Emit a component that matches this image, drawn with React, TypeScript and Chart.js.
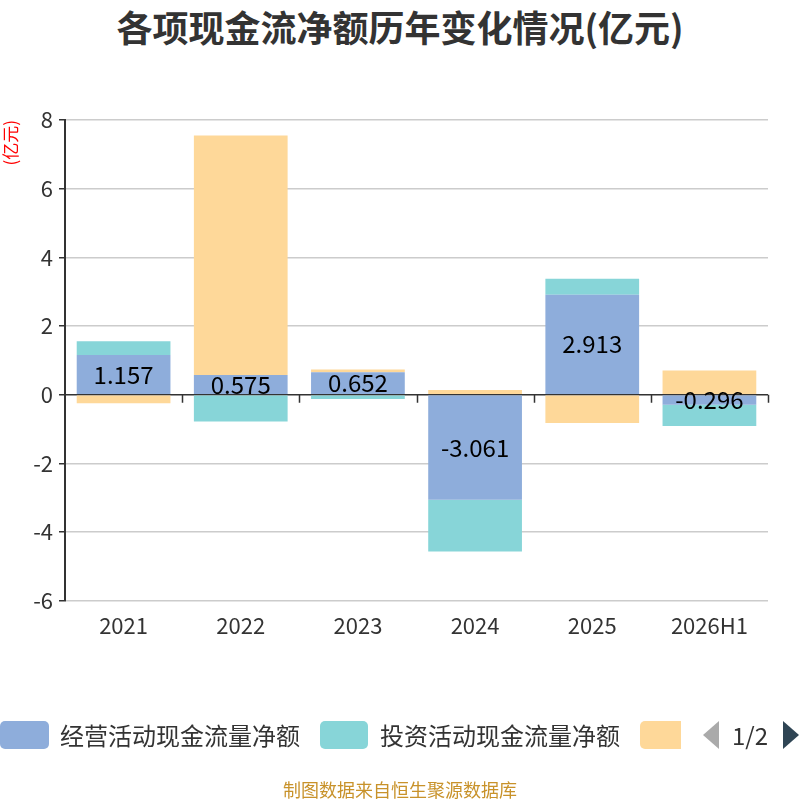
import { useEffect, useRef } from 'react';
import { Chart, registerables, type Plugin } from 'chart.js';

Chart.register(...registerables);

const FONT = "'Noto Sans CJK SC','Noto Sans',sans-serif";

const years = ['2021', '2022', '2023', '2024', '2025', '2026H1'];
const operating = [1.157, 0.575, 0.652, -3.061, 2.913, -0.296];
const investing = [0.4, -0.78, -0.126, -1.51, 0.465, -0.62];
const financing = [-0.25, 6.97, 0.078, 0.137, -0.83, 0.7];
const seriesNames = ['经营活动现金流量净额', '投资活动现金流量净额', '筹资活动现金流量净额'];
const colors = ['#8eaddb', '#87d5d8', '#fed899'];

// zero line + category boundary ticks, drawn under the bars
const zeroAxis: Plugin<'bar'> = {
  id: 'zeroAxis',
  beforeDatasetsDraw(chart) {
    const { ctx, chartArea, scales } = chart;
    const y0 = scales.y.getPixelForValue(0);
    const step = (chartArea.right - chartArea.left) / years.length;
    ctx.save();
    ctx.strokeStyle = '#333';
    ctx.lineWidth = 1.5;
    ctx.beginPath();
    ctx.moveTo(chartArea.left, y0);
    ctx.lineTo(chartArea.right, y0);
    for (let i = 1; i <= years.length; i++) {
      const x = Math.round(chartArea.left + step * i) + 0.5;
      ctx.moveTo(x, y0);
      ctx.lineTo(x, y0 + 8);
    }
    ctx.stroke();
    ctx.restore();
  },
};

const centerLabels: Plugin<'bar'> = {
  id: 'centerLabels',
  afterDatasetsDraw(chart) {
    const { ctx } = chart;
    const meta = chart.getDatasetMeta(0);
    ctx.save();
    ctx.font = `24px ${FONT}`;
    ctx.fillStyle = '#000';
    ctx.textAlign = 'center';
    ctx.textBaseline = 'middle';
    meta.data.forEach((el: any, i) => {
      const { x, y, base } = el.getProps(['x', 'y', 'base'], true);
      ctx.fillText(operating[i].toFixed(3), x, (y + base) / 2);
    });
    ctx.restore();
  },
};

function CashFlowChart() {
  const canvasRef = useRef<HTMLCanvasElement>(null);

  useEffect(() => {
    if (!canvasRef.current) return;
    const chart = new Chart(canvasRef.current, {
      type: 'bar',
      data: {
        labels: years,
        datasets: [operating, investing, financing].map((d, i) => ({
          label: seriesNames[i],
          data: d,
          backgroundColor: colors[i],
          borderWidth: 0,
          barPercentage: 0.8,
          categoryPercentage: 1,
        })),
      },
      options: {
        animation: false,
        responsive: true,
        maintainAspectRatio: false,
        layout: { padding: { left: 0, right: 32, top: 120, bottom: 149 } },
        plugins: {
          legend: { display: false },
          tooltip: { enabled: false },
        },
        scales: {
          x: {
            stacked: true,
            grid: { display: false, drawTicks: false },
            border: { display: false },
            ticks: { color: '#333', font: { family: FONT, size: 22 }, padding: 12 },
          },
          y: {
            stacked: true,
            min: -6,
            max: 8,
            ticks: { stepSize: 2, color: '#333', font: { family: FONT, size: 22 }, padding: 6 },
            grid: {
              color: (c) => (c.tick && c.tick.value === 0 ? 'rgba(0,0,0,0)' : '#ccc'),
              lineWidth: 1.5,
              tickColor: '#333',
              tickLength: 6,
            },
            border: { display: true, color: '#333', width: 2 },
            title: {
              display: true,
              text: '(亿元)',
              color: '#ff0000',
              align: 'end',
              font: { family: FONT, size: 17 },
              padding: 0,
            },
            afterFit(scale) {
              scale.width = 65;
            },
          },
        },
      },
      plugins: [zeroAxis, centerLabels],
    });
    return () => chart.destroy();
  }, []);

  return (
    <div style={{ position: 'absolute', left: 0, top: 0, width: 800, height: 800 }}>
      <canvas ref={canvasRef}></canvas>
    </div>
  );
}

function Legend() {
  const text = { position: 'absolute' as const, top: 718, fontFamily: FONT, fontSize: 24, color: '#333', lineHeight: '34px', whiteSpace: 'nowrap' as const };
  const box = (left: number, width: number, color: string) => (
    <div style={{ position: 'absolute', left, top: 721, width, height: 28, borderRadius: 5, background: color }} />
  );
  return (
    <>
      {box(0, 49, colors[0])}
      <div style={{ ...text, left: 60 }}>{seriesNames[0]}</div>
      {box(320, 48, colors[1])}
      <div style={{ ...text, left: 380 }}>{seriesNames[1]}</div>
      <div style={{ position: 'absolute', left: 640, top: 721, width: 41, height: 28, borderRadius: '5px 0 0 5px', background: colors[2] }} />
      <div style={{ position: 'absolute', left: 703, top: 721, width: 0, height: 0, borderTop: '14px solid transparent', borderBottom: '14px solid transparent', borderRight: '16px solid #aaa' }} />
      <div style={{ ...text, left: 732 }}>1/2</div>
      <div style={{ position: 'absolute', left: 783, top: 721, width: 0, height: 0, borderTop: '14px solid transparent', borderBottom: '14px solid transparent', borderLeft: '16px solid #2f4554' }} />
      <div style={{ position: 'absolute', left: 0, width: 800, top: 776, textAlign: 'center', fontFamily: FONT, fontSize: 18, color: '#c8922a' }}>
        制图数据来自恒生聚源数据库
      </div>
    </>
  );
}

export default function App() {
  return (
    <div style={{ position: 'absolute', left: 0, top: 0, width: 800, height: 800, overflow: 'hidden', background: '#fff' }}>
      <div style={{ position: 'absolute', left: 0, top: 0, width: 800, lineHeight: '52px', textAlign: 'center', fontFamily: FONT, fontSize: 36, fontWeight: 'bold', color: '#333' }}>
        各项现金流净额历年变化情况(亿元)
      </div>
      <CashFlowChart />
      <Legend />
    </div>
  );
}
